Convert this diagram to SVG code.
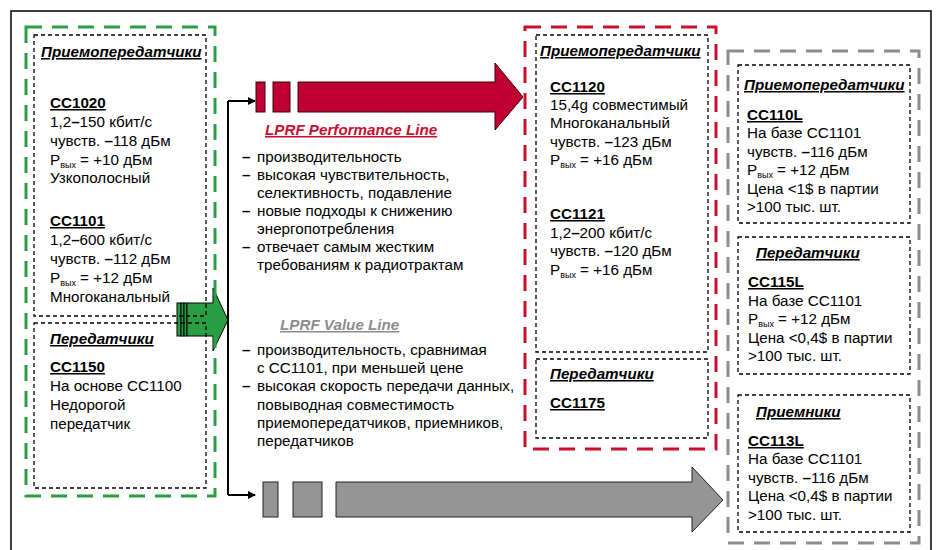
<svg xmlns="http://www.w3.org/2000/svg" width="936" height="550" viewBox="0 0 936 550">
<defs>
<style>
text{font-family:"Liberation Sans",Arial,sans-serif;font-size:15.2px;fill:#000}
.t{font-weight:bold;font-style:italic;text-decoration:underline}
.h{font-weight:bold;text-decoration:underline}
.b{font-size:15.2px}
.d{font-weight:bold}
.sub{font-size:9px}
.box{fill:none;stroke:#000;stroke-width:1.3;stroke-dasharray:4 3}
.grp{fill:none;stroke-width:3;stroke-dasharray:16 10}
</style>
<marker id="ah" markerWidth="8" markerHeight="8" refX="7" refY="4" orient="auto" markerUnits="userSpaceOnUse">
<path d="M0,0 L8,4 L0,8 Z" fill="#000"/>
</marker>
</defs>
<rect width="936" height="550" fill="#fff"/>
<rect x="11" y="11" width="920" height="545" fill="none" stroke="#000" stroke-width="1.5"/>

<g id="arrows">
<g id="green-arrow" fill="#2A9E45" stroke="#000" stroke-width="1">
<rect x="177" y="303" width="4" height="33"/>
<rect x="181" y="303" width="3" height="33"/>
<rect x="184" y="303" width="3" height="33"/>
<polygon points="187,303 213,303 213,288 228,320 213,351 213,336 187,336"/>
</g>
<g id="red-arrow" fill="#C00030" stroke="#3a0010" stroke-width="1">
<rect x="256" y="82" width="9" height="30"/>
<rect x="273" y="82" width="17" height="30"/>
<polygon points="298,82 495,82 495,63 523,97 495,130 495,112 298,112"/>
</g>
<g id="gray-arrow" fill="#959595" stroke="#222" stroke-width="1">
<rect x="263" y="482" width="15" height="35"/>
<rect x="293" y="482" width="29" height="35"/>
<polygon points="336,482 692,482 692,467 723,500 692,532 692,517 336,517"/>
</g>
</g>

<g id="connectors" fill="none" stroke="#000" stroke-width="2">
<path d="M228,101 V495"/>
<path d="M228,101 H255" marker-end="url(#ah)"/>
<path d="M228,495 H255" marker-end="url(#ah)"/>
</g>

<g id="group-left">
<rect class="grp" x="26" y="27" width="189" height="469" stroke="#2A9E45"/>
<g id="left-transceivers">
<rect class="box" x="34" y="35" width="172" height="281"/>
<text class="t" x="41" y="57">Приемопередатчики</text>
<text class="h" x="50" y="108">CC1020</text>
<text x="50" y="127">1,2<tspan class="d">–</tspan>150 кбит/с</text>
<text x="50" y="146">чувств. <tspan class="d">–</tspan>118 дБм</text>
<text x="50" y="165">P<tspan class="sub" dy="3">вых</tspan><tspan dy="-3"> = +10 дБм</tspan></text>
<text x="50" y="183">Узкополосный</text>
<text class="h" x="50" y="226">CC1101</text>
<text x="50" y="245">1,2<tspan class="d">–</tspan>600 кбит/с</text>
<text x="50" y="264">чувств. <tspan class="d">–</tspan>112 дБм</text>
<text x="50" y="283">P<tspan class="sub" dy="3">вых</tspan><tspan dy="-3"> = +12 дБм</tspan></text>
<text x="50" y="302">Многоканальный</text>
</g>
<g id="left-transmitters">
<rect class="box" x="34" y="323" width="172" height="165"/>
<text class="t" x="50" y="344">Передатчики</text>
<text class="h" x="50" y="372">CC1150</text>
<text x="50" y="391">На основе CC1100</text>
<text x="50" y="410">Недорогой</text>
<text x="50" y="429">передатчик</text>
</g>
</g>

<g id="performance-text">
<text class="t b" x="265" y="135" style="fill:#C8102E">LPRF Performance Line</text>
<text class="b" x="242" y="162"><tspan class="d">–</tspan><tspan x="257">производительность</tspan></text>
<text class="b" x="242" y="180"><tspan class="d">–</tspan><tspan x="257">высокая чувствительность,</tspan></text>
<text class="b" x="257" y="198">селективность, подавление</text>
<text class="b" x="242" y="216"><tspan class="d">–</tspan><tspan x="257">новые подходы к снижению</tspan></text>
<text class="b" x="257" y="234">энергопотребления</text>
<text class="b" x="242" y="252"><tspan class="d">–</tspan><tspan x="257">отвечает самым жестким</tspan></text>
<text class="b" x="257" y="270">требованиям к радиотрактам</text>
</g>

<g id="value-text">
<text class="t b" x="280" y="330" style="fill:#8C8C8C">LPRF Value Line</text>
<text class="b" x="242" y="355"><tspan class="d">–</tspan><tspan x="257">производительность, сравнимая</tspan></text>
<text class="b" x="257" y="373">с CC1101, при меньшей цене</text>
<text class="b" x="242" y="391"><tspan class="d">–</tspan><tspan x="257">высокая скорость передачи данных,</tspan></text>
<text class="b" x="257" y="410">повыводная совместимость</text>
<text class="b" x="257" y="428">приемопередатчиков, приемников,</text>
<text class="b" x="257" y="446">передатчиков</text>
</g>

<g id="group-middle">
<rect class="grp" x="525" y="27" width="191" height="422" stroke="#C8102E"/>
<g id="mid-transceivers">
<rect class="box" x="536" y="35" width="172" height="317"/>
<text class="t" x="540" y="56">Приемопередатчики</text>
<text class="h" x="550" y="92">CC1120</text>
<text x="550" y="110">15,4g совместимый</text>
<text x="550" y="128">Многоканальный</text>
<text x="550" y="147">чувств. <tspan class="d">–</tspan>123 дБм</text>
<text x="550" y="165">P<tspan class="sub" dy="3">вых</tspan><tspan dy="-3"> = +16 дБм</tspan></text>
<text class="h" x="550" y="219">CC1121</text>
<text x="550" y="238">1,2<tspan class="d">–</tspan>200 кбит/с</text>
<text x="550" y="256">чувств. <tspan class="d">–</tspan>120 дБм</text>
<text x="550" y="275">P<tspan class="sub" dy="3">вых</tspan><tspan dy="-3"> = +16 дБм</tspan></text>
</g>
<g id="mid-transmitters">
<rect class="box" x="536" y="359" width="172" height="79"/>
<text class="t" x="550" y="379">Передатчики</text>
<text class="h" x="550" y="408">CC1175</text>
</g>
</g>

<g id="group-right">
<rect class="grp" x="728" y="51" width="191" height="492" stroke="#8C8C8C"/>
<g id="right-transceivers">
<rect class="box" x="738" y="65" width="172" height="158"/>
<text class="t" x="744" y="90">Приемопередатчики</text>
<text class="h" x="747" y="120">CC110L</text>
<text x="747" y="138">На базе CC1101</text>
<text x="747" y="157">чувств. <tspan class="d">–</tspan>116 дБм</text>
<text x="747" y="175">P<tspan class="sub" dy="3">вых</tspan><tspan dy="-3"> = +12 дБм</tspan></text>
<text x="747" y="194">Цена &lt;1$ в партии</text>
<text x="747" y="212">&gt;100 тыс. шт.</text>
</g>
<g id="right-transmitters">
<rect class="box" x="738" y="237" width="172" height="137"/>
<text class="t" x="756" y="258">Передатчики</text>
<text class="h" x="748" y="287">CC115L</text>
<text x="748" y="306">На базе CC1101</text>
<text x="748" y="324">P<tspan class="sub" dy="3">вых</tspan><tspan dy="-3"> = +12 дБм</tspan></text>
<text x="748" y="343">Цена &lt;0,4$ в партии</text>
<text x="748" y="361">&gt;100 тыс. шт.</text>
</g>
<g id="right-receivers">
<rect class="box" x="738" y="395" width="172" height="137"/>
<text class="t" x="756" y="417">Приемники</text>
<text class="h" x="748" y="446">CC113L</text>
<text x="748" y="464">На базе CC1101</text>
<text x="748" y="483">чувств. <tspan class="d">–</tspan>116 дБм</text>
<text x="748" y="501">Цена &lt;0,4$ в партии</text>
<text x="748" y="520">&gt;100 тыс. шт.</text>
</g>
</g>
</svg>
